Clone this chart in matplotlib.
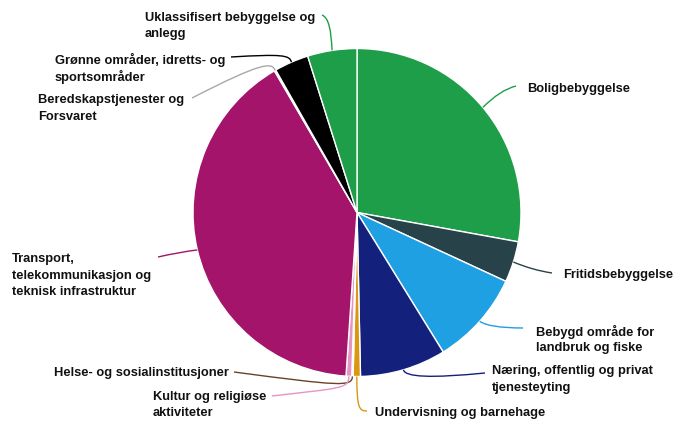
import matplotlib
matplotlib.use("Agg")
import matplotlib.pyplot as plt
import numpy as np
from matplotlib.path import Path
from matplotlib.patches import PathPatch

categories = [
    "Boligbebyggelse",
    "Fritidsbebyggelse",
    "Bebygd område for\nlandbruk og fiske",
    "Næring, offentlig og privat\ntjenesteyting",
    "Undervisning og barnehage",
    "Helse- og sosialinstitusjoner",
    "Kultur og religiøse\naktiviteter",
    "Transport,\ntelekommunikasjon og\nteknisk infrastruktur",
    "Beredskapstjenester og\nForsvaret",
    "Grønne områder, idretts- og\nsportsområder",
    "Uklassifisert bebyggelse og\nanlegg",
]
values = [27.87, 4.03, 9.30, 8.47, 0.72, 0.13, 0.56, 40.54, 0.15, 3.39, 4.86]
colors = ["#1f9e4a", "#28424a", "#1fa0e3", "#13207c", "#d9980f", "#6b4226",
          "#e495c4", "#a3146a", "#a8a8a8", "#000000", "#1f9e4a"]

W, H = 673, 421
fig = plt.figure(figsize=(W / 100, H / 100), dpi=100)
ax = fig.add_axes([0, 0, 1, 1])
ax.axis("off")

cx, cy, R = 357, H - 212.5, 164
wedges, _ = ax.pie(values, colors=colors, startangle=90, counterclock=False,
                   center=(cx, cy), radius=R,
                   wedgeprops=dict(edgecolor="white", linewidth=1.0))
ax.set_xlim(0, W)
ax.set_ylim(0, H)
ax.set_aspect("auto")

# label layout in pixels: first-line centre, connector control points, connector end
layout = [
    dict(tx=527, ty=89, ctrl=[(500, 90)], end=(516, 86)),
    dict(tx=563, ty=275, ctrl=[(532, 270)], end=(552, 273)),
    dict(tx=536, ty=332, ctrl=[(489, 328)], end=(523, 328)),
    dict(tx=492, ty=371, ctrl=[(405, 381)], end=(485, 373)),
    dict(tx=375, ty=413, ctrl=[(357, 408), (359, 411)], end=(367, 411)),
    dict(tx=229, ty=373, ha="right", ctrl=[(352, 387), (340, 386)], end=(234, 372)),
    dict(tx=153, ty=397, ctrl=[(349, 389), (340, 388)], end=(272, 396)),
    dict(tx=12, ty=259, ctrl=[(180, 252)], end=(158, 257)),
    dict(tx=38, ty=100, ctrl=[(272, 62), (262, 62)], end=(192, 98)),
    dict(tx=55, ty=60, ctrl=[(290, 55), (282, 54)], end=(231, 57)),
    dict(tx=145, ty=18, ctrl=[(331, 30), (329, 18)], end=(322, 15)),
]
LINE = 16.5

font = dict(family=["Liberation Sans", "DejaVu Sans"], weight="bold", size=9.3, color="#111111")

for w, lab, col, L in zip(wedges, categories, colors, layout):
    mid = np.deg2rad((w.theta1 + w.theta2) / 2)
    sx = w.center[0] + w.r * np.cos(mid)
    sy = w.center[1] + w.r * np.sin(mid)
    pts = [(sx, sy)] + [(x, H - y) for x, y in L["ctrl"]] + [(L["end"][0], H - L["end"][1])]
    if len(pts) == 3:
        codes = [Path.MOVETO, Path.CURVE3, Path.CURVE3]
    else:
        codes = [Path.MOVETO, Path.CURVE4, Path.CURVE4, Path.CURVE4]
    ax.add_patch(PathPatch(Path(pts, codes), fill=False, edgecolor=col, lw=1.0))
    ha = L.get("ha", "left")
    for i, line in enumerate(lab.split("\n")):
        ax.text(L["tx"], H - (L["ty"] + i * LINE), line, ha=ha, va="center", **font)

fig.savefig("out.png", dpi=100)
